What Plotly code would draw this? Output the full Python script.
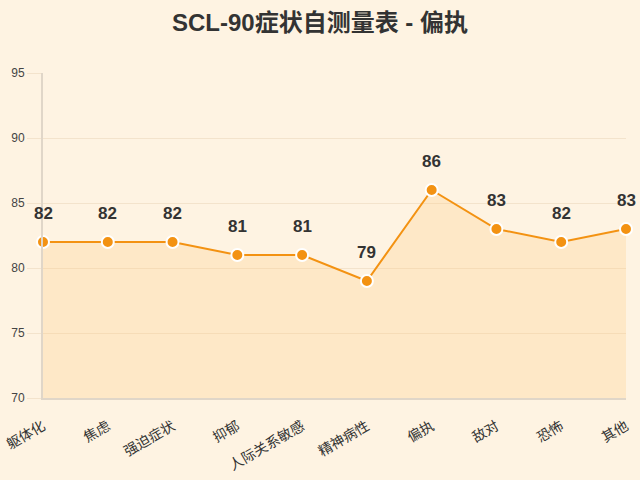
import plotly.graph_objects as go

categories = ['躯体化', '焦虑', '强迫症状', '抑郁', '人际关系敏感', '精神病性', '偏执', '敌对', '恐怖', '其他']
scores = [82, 82, 82, 81, 81, 79, 86, 83, 82, 83]
y_ticks = [70, 75, 80, 85, 90, 95]

font_family = 'Liberation Sans, Noto Sans CJK SC, sans-serif'

fig = go.Figure()
fig.add_trace(go.Scatter(
    x=categories, y=scores,
    mode='lines+markers',
    line=dict(color='#F39212', width=2),
    marker=dict(size=12, color='#F39212', line=dict(color='white', width=2)),
    fill='tozeroy',
    fillcolor='rgba(255,200,120,0.25)',
    cliponaxis=False,
    showlegend=False,
))

# value labels above each point
for cat, val in zip(categories, scores):
    fig.add_annotation(
        x=cat, y=val, text='<b>%d</b>' % val, showarrow=False,
        yanchor='middle', yshift=29,
        font=dict(size=17, color='#333333', family=font_family),
    )

fig.update_layout(
    width=640, height=480,
    title=dict(text='<b>SCL-90症状自测量表 - 偏执</b>', x=0.5, xanchor='center',
               y=1 - 23 / 480, yanchor='middle',
               font=dict(size=24, color='#333333', family=font_family)),
    paper_bgcolor='#FEF3E2',
    plot_bgcolor='#FEF3E2',
    margin=dict(l=43, r=14, t=73, b=82),
    font=dict(family=font_family, color='#333333'),
)
fig.update_xaxes(
    tickangle=-30, tickfont=dict(size=14, color='#333333'), automargin=False,
    showgrid=False, showline=True, linecolor='#E0D6C8', linewidth=2,
    ticks='outside', ticklen=13, tickcolor='rgba(0,0,0,0)',
    range=[0, len(categories) - 1], type='category',
)
fig.update_yaxes(
    range=[70, 95], tickvals=y_ticks, tickfont=dict(size=12, color='#444444'),
    automargin=False,
    showgrid=True, gridcolor='#F3E3CC', zeroline=False,
    showline=True, linecolor='#E0D6C8', linewidth=2,
    ticks='outside', ticklen=14, tickcolor='#F3E3CC',
)

fig.write_html('out.html', config={'displayModeBar': False},
               post_script="document.body.style.margin='0';")
